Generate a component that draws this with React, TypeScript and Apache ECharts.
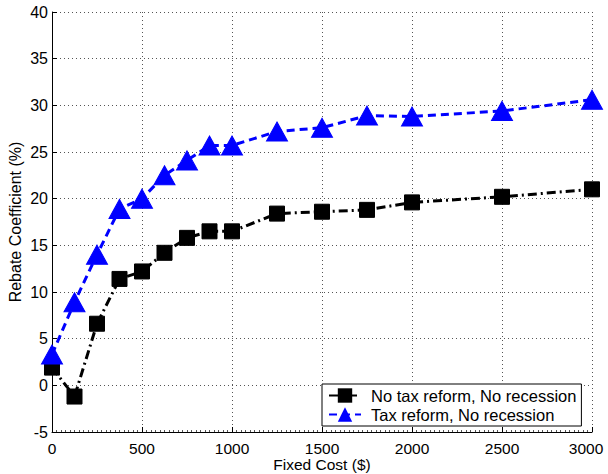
import React, { useEffect, useRef } from "react";
import * as echarts from "echarts";

const fixedCost = [0, 125, 250, 375, 500, 625, 750, 875, 1000, 1250, 1500, 1750, 2000, 2500, 3000];
const noTaxReform = [1.9, -1.2, 6.6, 11.4, 12.2, 14.2, 15.8, 16.5, 16.5, 18.4, 18.6, 18.8, 19.6, 20.2, 21.0];
const taxReform = [3.3, 8.9, 14.0, 18.9, 20.0, 22.5, 24.1, 25.7, 25.7, 27.2, 27.6, 28.9, 28.8, 29.4, 30.6];
const seriesNames = ["No tax reform, No recession", "Tax reform, No recession"];

const FONT = "Liberation Sans, Arial, Helvetica, sans-serif";

export default function App() {
  const ref = useRef<HTMLDivElement>(null);
  useEffect(() => {
    if (!ref.current) return;
    const chart = echarts.init(ref.current, undefined, { renderer: "svg" });
    const gridLine = { show: true, lineStyle: { color: "#555", type: [1, 3], width: 1 } };
    chart.setOption({
      animation: false,
      backgroundColor: "#fff",
      textStyle: { fontFamily: FONT },
      grid: { left: 52, right: 16, top: 12, bottom: 42, containLabel: false, outerBoundsMode: "none" },
      legend: {
        left: 322,
        top: 384,
        orient: "vertical",
        backgroundColor: "#fff",
        borderColor: "#000",
        borderWidth: 1,
        borderRadius: 0,
        padding: [3, 5, 3, 6],
        itemGap: 2,
        itemWidth: 32,
        itemHeight: 18,
        textStyle: { fontFamily: FONT, fontSize: 16.5, color: "#000", padding: [0, 0, 0, 5] },
        data: seriesNames,
      },
      xAxis: {
        type: "value",
        min: 0,
        max: 3000,
        interval: 500,
        name: "Fixed Cost ($)",
        nameLocation: "middle",
        nameGap: 24,
        nameMoveOverlap: false,
        nameTextStyle: { fontFamily: FONT, fontSize: 15.5, color: "#000", verticalAlign: "top", lineHeight: 16 },
        axisLine: { show: true, onZero: false, lineStyle: { color: "#000", width: 1 } },
        axisTick: { show: true, inside: true, length: 5, lineStyle: { color: "#000" } },
        minorTick: { show: true, splitNumber: 20, length: 2, lineStyle: { color: "#555" } },
        axisLabel: {
          fontFamily: FONT,
          fontSize: 15.5,
          color: "#000",
          margin: 8,
          formatter: (v: number) => (v === 3000 ? "{r|" + v + "}" : String(v)),
          rich: { r: { fontFamily: FONT, fontSize: 15.5, color: "#000", padding: [0, 12, 0, 0] } },
        },
        splitLine: gridLine,
      },
      yAxis: {
        type: "value",
        min: -5,
        max: 40,
        interval: 5,
        name: "Rebate Coefficient (%)",
        nameLocation: "middle",
        nameGap: 29,
        nameMoveOverlap: false,
        nameTextStyle: { fontFamily: FONT, fontSize: 16, color: "#000" },
        axisLine: { show: true, onZero: false, lineStyle: { color: "#000", width: 1 } },
        axisTick: { show: true, inside: true, length: 5, lineStyle: { color: "#000" } },
        axisLabel: { fontFamily: FONT, fontSize: 16, color: "#000", margin: 4, formatter: (v: number) => String(v) },
        splitLine: gridLine,
      },
      series: [
        {
          name: seriesNames[0],
          type: "line",
          data: fixedCost.map((x, i) => [x, noTaxReform[i]]),
          symbol: "rect",
          symbolSize: 15,
          lineStyle: { color: "#000", width: 3, type: [9, 4, 2, 4] },
          itemStyle: { color: "#000", borderColor: "#000" },
          z: 2,
        },
        {
          name: seriesNames[1],
          type: "line",
          data: fixedCost.map((x, i) => [x, taxReform[i]]),
          symbol: "triangle",
          symbolSize: [21, 19],
          lineStyle: { color: "#0000ff", width: 3, type: [8, 5] },
          itemStyle: { color: "#0000ff", borderColor: "#0000ff" },
          z: 3,
        },
      ],
    });
    return () => chart.dispose();
  }, []);
  return <div ref={ref} style={{ width: 608, height: 474, position: "absolute", left: 0, top: 0 }} />;
}
